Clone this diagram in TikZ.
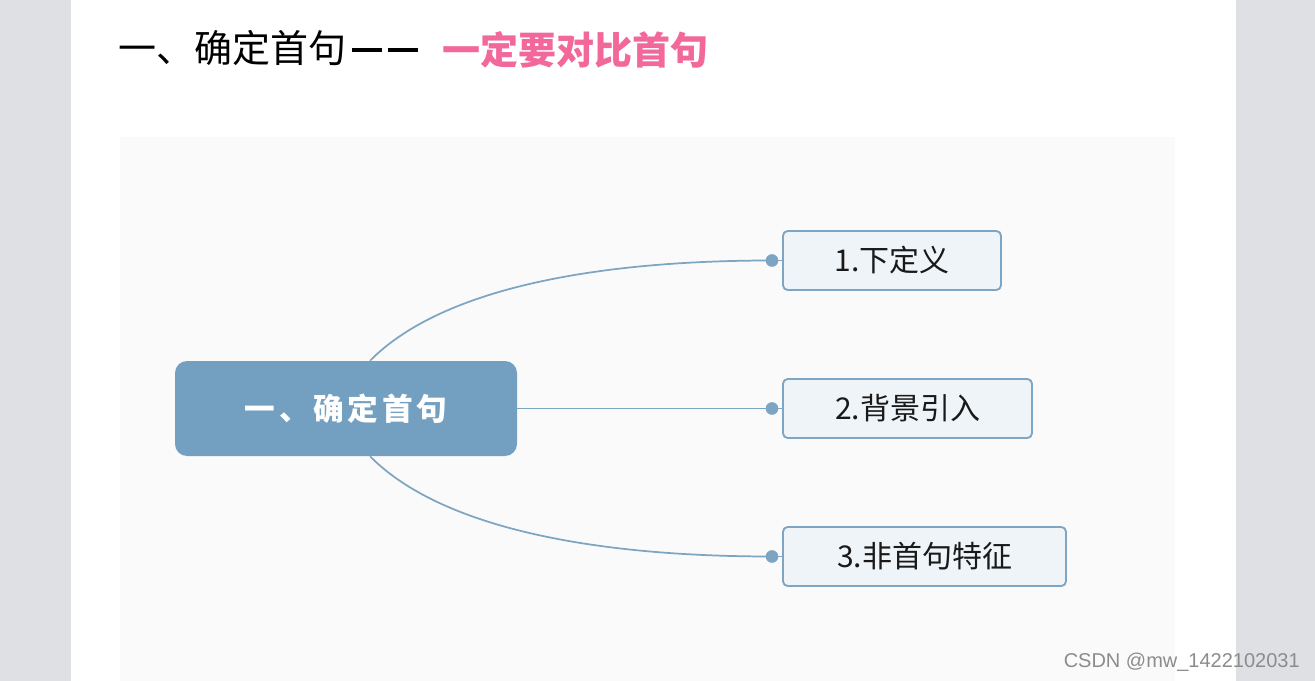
\documentclass[tikz,border=0pt]{standalone}
\usepackage{fontspec}
\setmainfont{Liberation Sans}
\newfontfamily\cjk{Noto Sans CJK SC}
\usetikzlibrary{calc}
\definecolor{margingray}{HTML}{DFE0E4}
\definecolor{panelgray}{HTML}{FAFAFA}
\definecolor{mainblue}{HTML}{73A0C1}
\definecolor{linkblue}{HTML}{7DA5C2}
\definecolor{childfill}{HTML}{EFF4F8}
\definecolor{childborder}{HTML}{7EA6C4}
\definecolor{pinktxt}{HTML}{F2689A}
\definecolor{wmgray}{HTML}{8C8C8C}
\tikzset{
  px/.style={x=0.75pt,y=-0.75pt},
  mainbox/.style={fill=mainblue,rounded corners=9pt,minimum width=256.5pt,minimum height=71.25pt,inner sep=0pt,text=white,font=\cjk\bfseries\fontsize{23}{23}\selectfont\addfontfeature{LetterSpace=12}},
  childbox/.style={draw=childborder,line width=1.4pt,fill=childfill,rounded corners=3.5pt,minimum height=44.25pt,inner sep=0pt,text=black!90,font=\cjk\fontsize{22.5}{22.5}\selectfont},
  link/.style={draw=linkblue,line width=1.3pt},
  dot/.style={circle,fill=linkblue,minimum size=9.5pt,inner sep=0pt},
}
\begin{document}
\begin{tikzpicture}[px]
\useasboundingbox (0,0) rectangle (1315,681);
\fill[margingray] (0,0) rectangle (1315,681);
\fill[white] (71,0) rectangle (1236,681);
\fill[panelgray] (120,137) rectangle (1175,681);

\node[anchor=west,inner sep=0pt,font=\cjk\fontsize{28.5}{28.5}\selectfont] (title) at (118,48) {一、确定首句\hspace{4pt}\rule[7.5pt]{23pt}{3pt}\hspace{4pt}\rule[7.5pt]{23pt}{3pt}};
\node[anchor=west,inner sep=0pt,text=pinktxt,font=\cjk\bfseries\fontsize{28.5}{28.5}\selectfont] (sub) at (442,50) {一定要对比首句};

\node[mainbox] (c) at (346,408.5) {一、确定首句};

\node[childbox,minimum width=163.5pt] (a) at (892,260.5) {1.下定义};
\node[childbox,minimum width=186.75pt] (b) at (907.5,408.5) {2.背景引入};
\node[childbox,minimum width=212.25pt] (d) at (924.5,556.5) {3.非首句特征};

\node[dot] (da) at (772,260.5) {};
\node[dot] (db) at (772,408.5) {};
\node[dot] (dd) at (772,556.5) {};

\coordinate (ct) at ($(c.north)+(24,0)$);
\coordinate (cb) at ($(c.south)+(24,0)$);
\path[link] (ct) .. controls (440,290) and (590,260.5) .. (da.center);
\path[link] (c.east) -- (db.center);
\path[link] (cb) .. controls (440,527) and (590,556.5) .. (dd.center);
\draw[childborder,line width=1.4pt] (da.center) -- (a.west);
\draw[childborder,line width=1.4pt] (db.center) -- (b.west);
\draw[childborder,line width=1.4pt] (dd.center) -- (d.west);

\node[anchor=east,inner sep=0pt,text=wmgray,font=\fontsize{15}{15}\selectfont] (wm) at (1300,662) {CSDN @mw\_1422102031};
\end{tikzpicture}
\end{document}
